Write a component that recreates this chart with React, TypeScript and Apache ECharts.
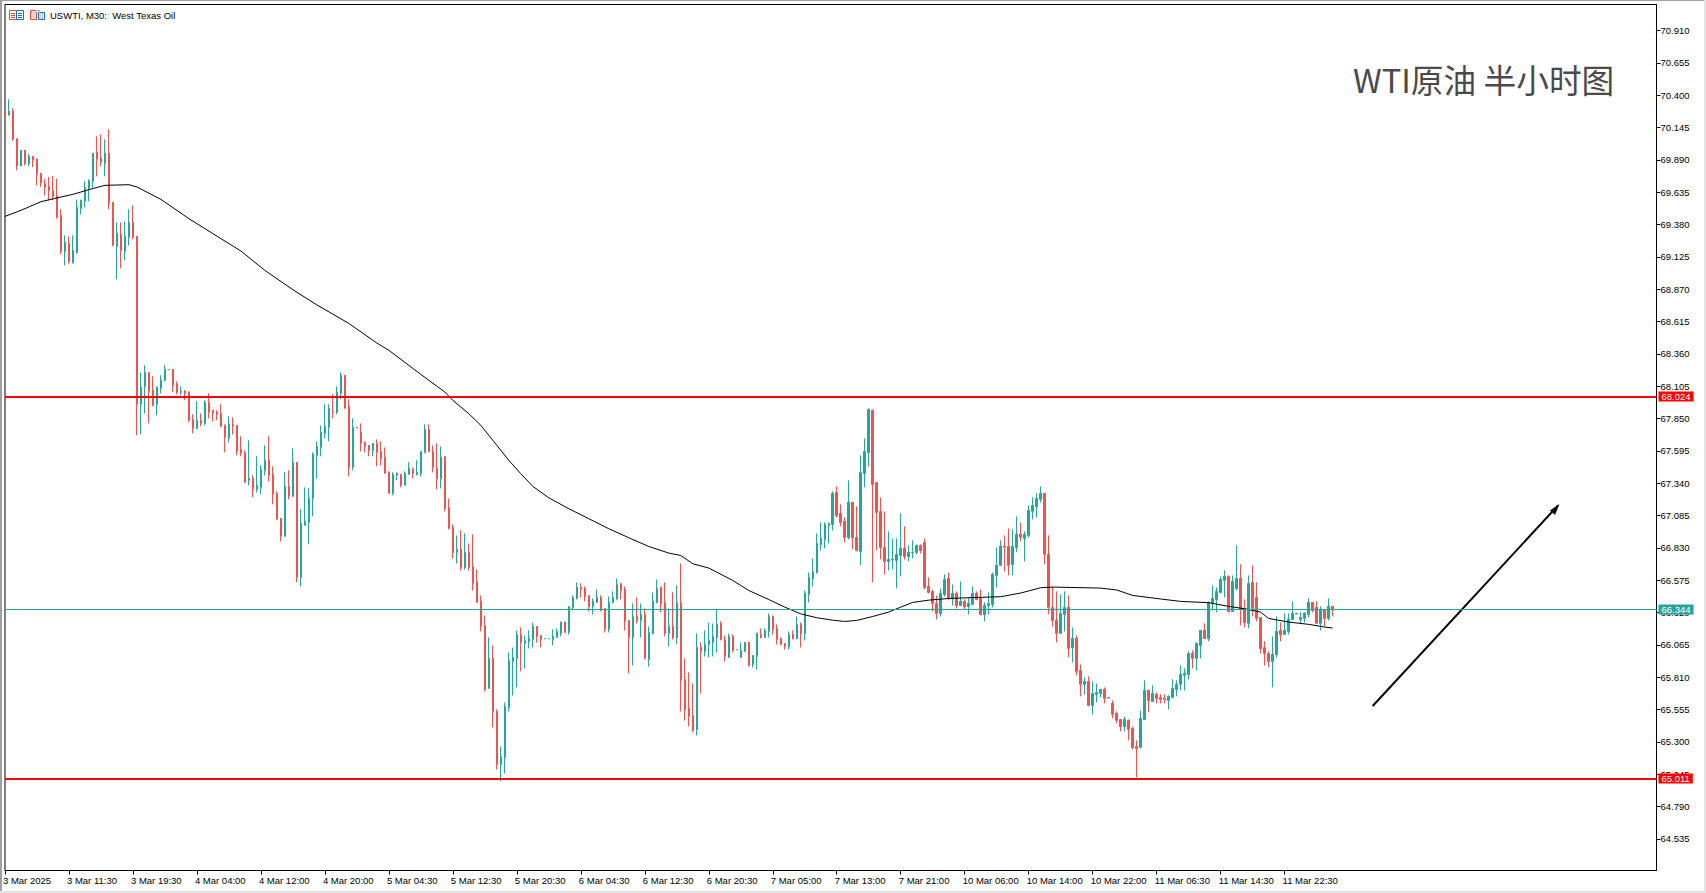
import React, { useEffect, useRef } from "react";
import * as echarts from "echarts";

// Every row is [open, close, low, high].
const BARS_3_MAR: number[][] = [
  [70.273,70.236,70.236,70.273],[70.241,70.273,70.241,70.367],[70.273,70.052,70.039,70.296],[70.057,69.841,69.807,70.057],
  [69.841,69.965,69.841,69.965],[69.965,69.860,69.847,69.965],[69.860,69.918,69.839,69.939],[69.918,69.886,69.833,69.918],
  [69.894,69.778,69.689,69.904],[69.784,69.707,69.676,69.784],[69.705,69.673,69.610,69.741],[69.681,69.649,69.571,69.755],
  [69.649,69.602,69.571,69.762],[69.607,69.437,69.426,69.741],[69.452,69.168,69.145,69.500],[69.168,69.239,69.058,69.295],
  [69.231,69.089,69.071,69.287],[69.082,69.176,69.071,69.295],[69.160,69.515,69.150,69.576],[69.507,69.571,69.460,69.576],
  [69.563,69.673,69.515,69.720],[69.665,69.728,69.563,69.736],[69.720,69.941,69.670,69.941],[69.949,69.894,69.760,70.075],
  [69.902,69.870,69.839,70.091],[69.862,69.941,69.760,70.052],[69.941,69.547,69.500,70.131],[69.555,69.216,69.208,69.555],
  [69.208,69.310,68.948,69.397],[69.302,69.176,69.034,69.397],[69.168,69.287,69.097,69.405],[69.279,69.397,69.216,69.500],
  [69.397,69.279,69.263,69.531],[69.287,67.962,67.718,69.287],[67.962,68.096,67.725,68.214],[68.104,68.214,67.891,68.270],
  [68.214,68.065,67.812,68.214],[68.073,67.954,67.946,68.183],[67.962,68.096,67.875,68.104],[68.088,68.151,68.049,68.191],
  [68.151,68.238,68.144,68.270],[68.235,68.237,68.235,68.237],[68.238,68.112,68.057,68.238],[68.120,68.057,68.041,68.144],
  [68.057,68.065,68.033,68.104],[68.067,68.049,67.994,68.073],[68.057,67.836,67.820,68.065],[67.844,67.773,67.733,67.883],
  [67.773,67.836,67.765,67.986],[67.836,67.812,67.789,67.891],[67.812,67.978,67.796,67.994],[67.978,67.899,67.852,68.049],
  [67.915,67.891,67.828,67.915],[67.902,67.883,67.836,67.915],[67.891,67.789,67.781,67.962],[67.796,67.702,67.583,67.804],
  [67.694,67.804,67.662,67.867],[67.804,67.789,67.725,67.860],[67.796,67.591,67.560,67.796],[67.607,67.576,67.552,67.710],
  [67.583,67.347,67.344,67.599],[67.363,67.378,67.323,67.678],[67.378,67.292,67.229,67.402],[67.292,67.323,67.268,67.552],
  [67.307,67.449,67.252,67.481],[67.442,67.520,67.402,67.639],[67.520,67.402,67.355,67.710],[67.410,67.252,67.173,67.473],
  [67.260,67.055,67.055,67.276],[67.063,66.921,66.882,67.063],[66.921,67.315,66.921,67.426],[67.315,67.237,67.213,67.442],
  [67.237,67.505,67.237,67.615],[67.505,66.598,66.558,67.505],[66.598,67.024,66.527,67.134],[67.008,67.039,67.008,67.307],
  [67.031,67.221,66.858,67.300],[67.221,67.568,67.079,67.583],[67.560,67.631,67.378,67.670],[67.623,67.741,67.552,67.796],
  [67.733,67.789,67.694,67.962],[67.781,67.931,67.670,67.962],[67.907,67.899,67.852,68.041],[67.899,68.057,67.883,68.104],
  [68.049,68.191,68.002,68.214],[68.191,67.931,67.931,68.191],[67.946,67.465,67.394,68.002],[67.465,67.781,67.442,67.852],
  [67.776,67.780,67.776,67.780],[67.741,67.654,67.591,67.812],[67.662,67.631,67.583,67.670],[67.639,67.599,67.552,67.639],
  [67.599,67.654,67.552,67.654],[67.654,67.583,67.473,67.686],[67.591,67.536,67.481,67.670],[67.544,67.418,67.418,67.623],
  [67.426,67.260,67.260,67.434],[67.260,67.410,67.244,67.426],[67.402,67.418,67.363,67.426],[67.410,67.323,67.307,67.410],
  [67.323,67.418,67.323,67.434],[67.410,67.457,67.410,67.505],[67.449,67.417,67.378,67.465],
];

const BARS_5_MAR: number[][] = [
  [67.409,67.425,67.401,67.520],[67.417,67.591,67.394,67.591],[67.583,67.764,67.575,67.804],[67.764,67.591,67.583,67.804],
  [67.591,67.465,67.425,67.638],[67.457,67.378,67.291,67.654],[67.378,67.543,67.299,67.630],[67.551,67.141,67.118,67.551],
  [67.149,66.983,66.976,67.220],[66.991,66.794,66.747,67.015],[66.794,66.818,66.707,66.928],[66.818,66.676,66.652,66.968],
  [66.676,66.794,66.660,66.944],[66.794,66.676,66.652,66.865],[66.684,66.550,66.494,66.936],[66.565,66.400,66.400,66.660],
  [66.408,66.211,66.171,66.455],[66.218,65.714,65.698,66.297],[65.722,65.958,65.722,66.124],[65.958,65.540,65.414,66.061],
  [65.540,65.122,65.083,65.556],[65.122,65.185,64.991,65.264],[65.177,65.580,65.051,65.611],[65.572,65.942,65.540,66.005],
  [65.935,65.966,65.666,66.045],[65.958,66.147,65.729,66.179],[66.147,66.084,65.856,66.203],[66.076,66.100,65.879,66.140],
  [66.092,66.116,66.037,66.179],[66.108,66.211,66.045,66.242],[66.211,66.132,66.084,66.211],[66.140,66.108,66.045,66.140],
  [66.112,66.114,66.112,66.114],[66.112,66.114,66.112,66.114],[66.108,66.132,66.061,66.187],[66.124,66.171,66.124,66.195],
  [66.155,66.242,66.132,66.250],[66.242,66.163,66.163,66.250],[66.171,66.368,66.147,66.368],[66.360,66.439,66.345,66.455],
  [66.431,66.518,66.423,66.558],[66.518,66.502,66.439,66.550],[66.510,66.447,66.408,66.526],[66.455,66.368,66.329,66.455],
  [66.368,66.408,66.305,66.431],[66.400,66.439,66.400,66.502],[66.439,66.337,66.329,66.455],[66.352,66.187,66.163,66.352],
  [66.187,66.400,66.163,66.447],[66.400,66.439,66.392,66.487],[66.431,66.542,66.416,66.589],[66.550,66.494,66.423,66.550],
  [66.502,66.250,66.179,66.526],[66.258,66.124,65.840,66.258],[66.124,66.289,65.903,66.392],[66.289,66.258,66.234,66.439],
  [66.258,66.305,66.124,66.392],[66.305,65.958,65.950,66.352],[65.950,66.163,65.895,66.211],[66.155,66.408,66.147,66.479],
  [66.400,66.510,66.392,66.581],[66.518,66.392,66.321,66.526],[66.400,66.155,66.132,66.558],[66.155,66.211,66.053,66.352],
  [66.211,66.124,66.108,66.479],[66.124,66.400,66.069,66.534],[66.400,65.785,65.540,66.707],[65.793,65.556,65.469,65.958],
  [65.564,65.501,65.422,65.848],[65.509,65.390,65.375,65.761],[65.398,66.045,65.351,66.155],[66.045,66.013,65.682,66.084],
  [66.013,66.069,65.974,66.179],[66.069,66.100,65.966,66.242],
];

const BARS_6_MAR: number[][] = [
  [66.084,66.132,65.974,66.234],[66.124,66.226,66.005,66.342],[66.234,66.108,66.100,66.250],[66.108,65.974,65.934,66.140],
  [65.966,66.132,65.966,66.155],[66.132,66.021,66.005,66.147],[66.026,66.028,66.026,66.028],[65.966,66.021,65.966,66.084],
  [66.013,66.084,66.013,66.084],[66.084,65.903,65.895,66.092],[65.911,65.982,65.887,65.982],[65.974,66.155,65.871,66.163],
  [66.147,66.124,66.116,66.195],[66.124,66.179,66.124,66.195],[66.171,66.289,66.124,66.313],[66.289,66.187,66.147,66.297],
  [66.195,66.108,66.069,66.226],[66.116,66.069,66.061,66.124],[66.076,66.053,66.029,66.076],[66.053,66.147,66.029,66.171],
  [66.147,66.116,66.108,66.179],[66.116,66.226,66.108,66.289],[66.226,66.155,66.045,66.242],[66.155,66.471,66.100,66.494],
  [66.463,66.597,66.400,66.636],[66.589,66.644,66.526,66.747],[66.636,66.865,66.626,66.944],[66.857,66.905,66.810,67.031],
  [66.897,67.015,66.826,67.031],[67.007,67.023,66.865,67.031],[67.015,67.259,66.968,67.275],[67.267,67.086,67.070,67.315],
  [67.102,67.031,67.000,67.173],[67.039,66.912,66.873,67.070],[66.912,67.189,66.897,67.362],[67.189,66.912,66.818,67.189],
  [66.912,66.810,66.802,67.157],[66.802,67.425,66.692,67.559],[67.417,67.591,67.307,67.693],[67.583,67.922,67.472,67.930],
  [67.914,67.330,66.558,67.922],[67.346,67.110,66.810,67.346],[67.118,66.834,66.739,67.228],[66.834,66.723,66.621,67.118],
  [66.723,66.739,66.652,66.960],[66.737,66.741,66.660,66.905],[66.731,66.778,66.510,66.905],[66.770,66.826,66.605,67.102],
  [66.826,66.763,66.739,67.000],[66.763,66.794,66.723,66.849],[66.792,66.796,66.747,66.889],[66.794,66.849,66.778,66.857],
  [66.849,66.810,66.786,66.857],[66.873,66.518,66.502,66.905],[66.526,66.479,66.471,66.597],[66.487,66.392,66.329,66.502],
  [66.392,66.313,66.266,66.455],[66.313,66.471,66.289,66.510],[66.463,66.581,66.447,66.621],[66.589,66.431,66.416,66.636],
  [66.431,66.471,66.376,66.542],[66.471,66.376,66.352,66.487],[66.376,66.408,66.376,66.565],[66.408,66.368,66.345,66.423],
  [66.368,66.392,66.305,66.439],[66.384,66.471,66.384,66.526],[66.471,66.423,66.416,66.487],[66.431,66.305,66.297,66.502],
  [66.305,66.376,66.250,66.400],[66.376,66.392,66.305,66.479],[66.384,66.621,66.360,66.636],[66.613,66.692,66.518,66.834],
];

const BARS_10_MAR: number[][] = [
  [66.692,66.842,66.692,66.889],[66.842,66.836,66.645,66.929],[66.842,66.692,66.613,66.984],[66.700,66.842,66.613,66.976],
  [66.834,66.937,66.795,67.078],[66.937,66.913,66.881,67.031],[66.905,66.937,66.724,66.960],[66.928,67.126,66.913,67.165],
  [67.118,67.165,67.055,67.228],[67.157,67.220,67.070,67.260],[67.212,67.260,67.189,67.315],[67.260,66.779,66.700,67.260],
  [66.779,66.361,66.306,66.929],[66.361,66.258,66.211,66.526],[66.258,66.156,66.085,66.487],[66.156,66.313,66.156,66.463],
  [66.306,66.361,66.172,66.487],[66.361,66.037,65.966,66.455],[66.045,66.116,65.927,66.203],[66.116,65.856,65.825,66.140],
  [65.864,65.754,65.659,65.911],[65.754,65.777,65.675,65.809],[65.777,65.588,65.580,65.817],[65.588,65.682,65.517,65.777],
  [65.675,65.690,65.612,65.761],[65.682,65.714,65.651,65.714],[65.714,65.643,65.604,65.730],[65.646,65.650,65.646,65.650],
  [65.604,65.517,65.485,65.627],[65.525,65.470,65.446,65.541],[65.477,65.422,65.383,65.477],[65.422,65.477,65.383,65.501],
  [65.470,65.399,65.312,65.477],[65.406,65.257,65.241,65.422],[65.265,65.249,65.020,65.312],[65.257,65.485,65.249,65.548],
  [65.477,65.706,65.477,65.785],[65.706,65.627,65.533,65.714],[65.619,65.682,65.619,65.746],[65.675,65.643,65.604,65.690],
  [65.651,65.635,65.604,65.675],[65.643,65.635,65.604,65.675],[65.627,65.659,65.556,65.667],[65.651,65.722,65.643,65.793],
  [65.714,65.754,65.659,65.785],[65.754,65.832,65.706,65.903],[65.825,65.840,65.706,65.880],[65.832,65.998,65.793,66.014],
  [65.998,65.959,65.880,66.022],[65.959,66.077,65.864,66.085],[66.061,66.179,65.959,66.179],[66.179,66.116,66.116,66.235],
  [66.116,66.400,66.093,66.408],[66.392,66.432,66.337,66.534],[66.424,66.487,66.321,66.519],[66.479,66.582,66.471,66.605],
  [66.574,66.605,66.440,66.653],[66.605,66.329,66.321,66.613],[66.329,66.566,66.329,66.613],[66.511,66.590,66.495,66.850],
  [66.590,66.345,66.219,66.700],[66.353,66.242,66.203,66.424],[66.235,66.550,66.195,66.613],[66.558,66.353,66.290,66.692],
  [66.440,66.274,66.250,66.558],[66.282,66.037,65.998,66.282],[66.045,65.998,65.903,66.093],[65.998,65.935,65.888,66.014],
  [65.935,65.990,65.730,66.132],[65.990,66.172,65.966,66.290],[66.179,66.148,66.093,66.243],[66.148,66.179,66.148,66.313],
  [66.172,66.266,66.148,66.313],[66.266,66.313,66.258,66.408],[66.309,66.313,66.309,66.313],[66.266,66.282,66.235,66.321],
  [66.274,66.313,66.242,66.321],[66.306,66.400,66.282,66.432],[66.400,66.337,66.321,66.400],[66.361,66.235,66.235,66.408],
  [66.235,66.345,66.179,66.369],[66.345,66.274,66.211,66.345],[66.274,66.369,66.258,66.432],[66.369,66.345,66.290,66.369],
];

// Moving average: [bar number, price].
const MOVING_AVERAGE: number[][] = [
  [0,69.444],[4,69.492],[9,69.560],[14,69.597],[17,69.618],[21,69.655],[25,69.689],[31,69.694],[33,69.676],[39,69.578],
  [46,69.426],[52,69.308],[59,69.171],[65,69.018],[72,68.866],[78,68.746],[86,68.600],[93,68.445],[96,68.388],[104,68.198],[110,68.059],
  [112,67.993],[116,67.888],[119,67.796],[122,67.678],[126,67.520],[129,67.415],[132,67.315],[136,67.225],[141,67.139],
  [146,67.060],[151,66.981],[156,66.910],[161,66.841],[166,66.789],[169,66.770],[172,66.705],[176,66.671],[178,66.639],
  [182,66.573],[186,66.494],[191,66.423],[195,66.363],[199,66.310],[203,66.279],[207,66.260],[210,66.250],[213,66.258],
  [217,66.289],[221,66.324],[224,66.363],[227,66.400],[231,66.418],[236,66.431],[241,66.437],[249,66.445],[254,66.474],
  [259,66.516],[262,66.521],[274,66.513],[278,66.498],[282,66.455],[289,66.427],[294,66.408],[301,66.398],[306,66.369],
  [310,66.350],[314,66.324],[316,66.274],[321,66.245],[326,66.227],[330,66.206],[332,66.198],
];

const PRICE_TICKS = [
  64.535,64.79,65.045,65.3,65.555,65.81,66.065,66.32,66.575,66.83,67.085,67.34,67.595,67.85,68.105,68.36,68.615,68.87,
  69.125,69.38,69.635,69.89,70.145,70.4,70.655,70.91,
];
const TIME_LABELS = [
  "3 Mar 2025","3 Mar 11:30","3 Mar 19:30","4 Mar 04:00","4 Mar 12:00","4 Mar 20:00","5 Mar 04:30","5 Mar 12:30",
  "5 Mar 20:30","6 Mar 04:30","6 Mar 12:30","6 Mar 20:30","7 Mar 05:00","7 Mar 13:00","7 Mar 21:00","10 Mar 06:00",
  "10 Mar 14:00","10 Mar 22:00","11 Mar 06:30","11 Mar 14:30","11 Mar 22:30",
];
const RESISTANCE = 68.024;
const SUPPORT = 65.011;
const LAST_PRICE = 66.344;

const CHART_TITLE = "WTI原油 半小时图";
const SYMBOL_TEXT = "USWTI, M30:  West Texas Oil";

const UP = "#26a69a";
const DOWN = "#ef5350";
const FONT = "'Liberation Sans', Arial, sans-serif";

const SLOT_COUNT = 414;
const BARS_PER_LABEL = 16;

export default function App() {
  const ref = useRef<HTMLDivElement>(null);

  useEffect(() => {
    document.body.style.margin = "0";
    document.body.style.background = "#fff";
    const chart = echarts.init(ref.current!, undefined, { renderer: "svg" });
    const bars = [...BARS_3_MAR, ...BARS_5_MAR, ...BARS_6_MAR, ...BARS_10_MAR];
    const categories = Array.from({ length: SLOT_COUNT }, (_, i) =>
      i % BARS_PER_LABEL === 0 ? TIME_LABELS[i / BARS_PER_LABEL] ?? "" : ""
    );
    const isLabelled = (i: number) => i % BARS_PER_LABEL === 0 && i / BARS_PER_LABEL < TIME_LABELS.length;
    const levelLine = (value: number, color: string, width: number) => ({
      yAxis: value,
      lineStyle: { color, width, type: "solid" },
      label: {
        show: true,
        position: "end",
        distance: 2,
        formatter: value.toFixed(3),
        color: "#fff",
        backgroundColor: color,
        padding: [1, 3, 0, 3],
        fontSize: 9.5,
        lineHeight: 9,
        fontFamily: FONT,
      },
    });
    chart.setOption({
      animation: false,
      backgroundColor: "#fff",
      title: {
        text: CHART_TITLE,
        left: 1353,
        top: 62,
        padding: 0,
        textStyle: { color: "#4a4a4a", fontSize: 32.7, fontWeight: 400, fontFamily: "'Noto Sans CJK SC', 'Noto Sans', sans-serif" },
      },
      grid: { left: 4.5, top: 4.5, width: 1652, height: 866, show: true, borderColor: "#000", borderWidth: 1, backgroundColor: "#fff" },
      xAxis: {
        type: "category",
        data: categories,
        boundaryGap: false,
        axisLine: { show: true, lineStyle: { color: "#000", width: 1 } },
        axisTick: { show: true, length: 4, interval: (i: number) => isLabelled(i), lineStyle: { color: "#000" } },
        axisLabel: {
          show: true,
          interval: (i: number) => isLabelled(i),
          align: "left",
          margin: 5,
          padding: [0, 0, 0, -2],
          color: "#000",
          fontSize: 9.5,
          fontFamily: FONT,
        },
        splitLine: { show: false },
      },
      yAxis: {
        type: "value",
        position: "right",
        min: 64.286,
        max: 71.115,
        axisLine: { show: true, onZero: false, lineStyle: { color: "#000", width: 1 } },
        axisTick: { show: true, length: 4, customValues: PRICE_TICKS, lineStyle: { color: "#000" } },
        axisLabel: {
          show: true,
          customValues: PRICE_TICKS,
          margin: 4,
          color: "#000",
          fontSize: 9.5,
          fontFamily: FONT,
          formatter: (v: number) => v.toFixed(3),
        },
        splitLine: { show: false },
      },
      series: [
        {
          type: "candlestick",
          data: bars,
          barWidth: 2,
          itemStyle: { color: UP, color0: DOWN, borderColor: UP, borderColor0: DOWN, borderWidth: 1 },
          z: 3,
        },
        {
          type: "line",
          data: MOVING_AVERAGE,
          showSymbol: false,
          symbol: "none",
          lineStyle: { color: "#000", width: 1 },
          z: 4,
          markLine: {
            silent: true,
            symbol: "none",
            animation: false,
            precision: 3,
            data: [levelLine(RESISTANCE, "#ff0000", 2), levelLine(SUPPORT, "#ff0000", 2), levelLine(LAST_PRICE, UP, 1)],
          },
        },
      ],
      graphic: [
        // window edge
        { type: "rect", shape: { x: 0, y: 0, width: 2, height: 893 }, style: { fill: "#a0a0a0" }, silent: true },
        { type: "rect", shape: { x: 0, y: 0, width: 1706, height: 1 }, style: { fill: "#a0a0a0" }, silent: true },
        { type: "rect", shape: { x: 1704, y: 0, width: 2, height: 893 }, style: { fill: "#e4e4e4" }, silent: true },
        { type: "rect", shape: { x: 0, y: 891, width: 1706, height: 2 }, style: { fill: "#e4e4e4" }, silent: true },
        // symbol caption icons
        { type: "rect", shape: { x: 9.5, y: 10.5, width: 7, height: 9 }, style: { fill: "#fff", stroke: "#e04a40", lineWidth: 1 } },
        { type: "rect", shape: { x: 16.5, y: 10.5, width: 7, height: 9 }, style: { fill: "#fff", stroke: "#1c6fb0", lineWidth: 1 } },
        { type: "line", shape: { x1: 11, y1: 13.5, x2: 15, y2: 13.5 }, style: { stroke: "#e04a40", lineWidth: 1 } },
        { type: "line", shape: { x1: 11, y1: 15.5, x2: 15, y2: 15.5 }, style: { stroke: "#e04a40", lineWidth: 1 } },
        { type: "line", shape: { x1: 11, y1: 17.5, x2: 15, y2: 17.5 }, style: { stroke: "#e04a40", lineWidth: 1 } },
        { type: "line", shape: { x1: 18, y1: 13.5, x2: 22, y2: 13.5 }, style: { stroke: "#1c6fb0", lineWidth: 1 } },
        { type: "line", shape: { x1: 18, y1: 15.5, x2: 22, y2: 15.5 }, style: { stroke: "#1c6fb0", lineWidth: 1 } },
        { type: "line", shape: { x1: 18, y1: 17.5, x2: 22, y2: 17.5 }, style: { stroke: "#1c6fb0", lineWidth: 1 } },
        { type: "rect", shape: { x: 30.5, y: 10.5, width: 6, height: 9 }, style: { fill: "#fbd9d2", stroke: "#e04a40", lineWidth: 1 } },
        { type: "rect", shape: { x: 38.5, y: 12.5, width: 6, height: 7 }, style: { fill: "#bfe0f5", stroke: "#1c6fb0", lineWidth: 1 } },
        { type: "rect", shape: { x: 35.5, y: 10.5, width: 4, height: 2 }, style: { fill: "#fff", stroke: "#aaaaaa", lineWidth: 1 } },
        {
          type: "text",
          x: 50,
          y: 10,
          style: { text: SYMBOL_TEXT, fill: "#000", fontSize: 9.5, fontFamily: FONT },
        },
        // hand-drawn arrow
        { type: "line", shape: { x1: 1372.7, y1: 706, x2: 1558, y2: 505.5 }, style: { stroke: "#000", lineWidth: 2 } },
        { type: "polygon", shape: { points: [[1559.5, 504], [1550, 510.5], [1555, 515]] }, style: { fill: "#000" } },
      ],
    });
    return () => chart.dispose();
  }, []);

  return <div ref={ref} style={{ position: "fixed", left: 0, top: 0, width: 1706, height: 893 }} />;
}
